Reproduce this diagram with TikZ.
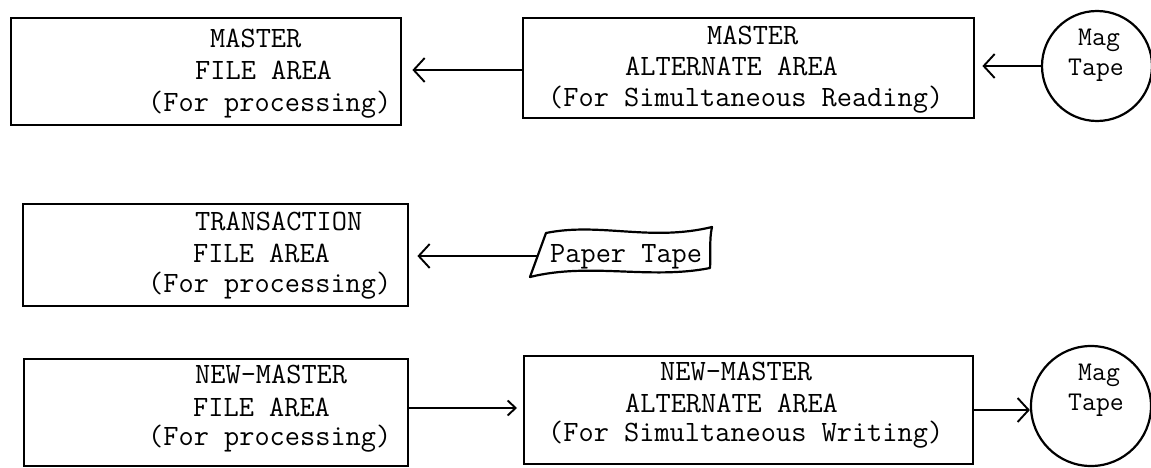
\documentclass[tikz,border=0pt]{standalone}
\usetikzlibrary{arrows.meta}
\begin{document}
\begin{tikzpicture}[x=1pt,y=-1pt,
  box/.style={draw, line width=2.4pt, anchor=north west, inner sep=0pt},
  txt/.style={anchor=base west, inner sep=0pt, font=\fontsize{29.5}{32}\selectfont\ttfamily},
  stxt/.style={anchor=base west, inner sep=0pt, font=\fontsize{27}{30}\selectfont\ttfamily},
  tape/.style={draw, line width=2.2pt, circle, inner sep=0pt},
  arr/.style={line width=1.9pt, -{Straight Barb[length=11pt,width=24pt,line width=1.9pt]}},
  arrs/.style={line width=1.9pt, -{Straight Barb[length=8pt,width=15pt,line width=1.9pt]}},
  ptape/.style={line width=2.2pt, line join=round}]
\useasboundingbox (0,0) rectangle (1151,468);

% Row 1
\node[box, minimum width=390pt, minimum height=107pt] (b1) at (10,17) {};
\node[txt] (b1a) at (210,48) {MASTER};
\node[txt] (b1b) at (195,80) {FILE AREA};
\node[txt] (b1c) at (148,112) {(For processing)};

\node[box, minimum width=451pt, minimum height=100pt] (b2) at (522,17) {};
\node[txt] (b2a) at (707,45) {MASTER};
\node[txt] (b2b) at (625,76) {ALTERNATE AREA};
\node[txt] (b2c) at (548,107) {(For Simultaneous Reading)};

\node[tape, minimum size=110pt] (m1) at (1097,66) {};
\node[stxt] (m1a) at (1078,46) {Mag};
\node[stxt] (m1b) at (1068,76) {Tape};

\draw[arr] (b2.west |- 0,70) -- ([xshift=10pt]b1.east |- 0,70);
\draw[arr] (m1.west) -- ([xshift=7pt]m1.west -| b2.east);

% Row 2
\node[box, minimum width=385pt, minimum height=102pt] (b3) at (22,203) {};
\node[txt] (b3a) at (195,230) {TRANSACTION};
\node[txt] (b3b) at (193,262) {FILE AREA};
\node[txt] (b3c) at (148,292) {(For processing)};

\node[txt] (pt) at (550,262) {Paper Tape};
\draw[ptape] (530,277) -- (546,233) .. controls (600,222) and (650,242) .. (712,227)
  .. controls (709,240) and (711,255) .. (710,268)
  .. controls (650,280) and (590,262) .. (530,277) -- cycle;
\coordinate (ptl) at (537,256);
\draw[arr] (ptl) -- ([xshift=8pt]ptl -| b3.east);

% Row 3
\node[box, minimum width=384pt, minimum height=107pt] (b4) at (23,358) {};
\node[txt] (b4a) at (195,383) {NEW-MASTER};
\node[txt] (b4b) at (193,416) {FILE AREA};
\node[txt] (b4c) at (148,445) {(For processing)};

\node[box, minimum width=449pt, minimum height=108pt] (b5) at (523,355) {};
\node[txt] (b5a) at (660,380) {NEW-MASTER};
\node[txt] (b5b) at (625,412) {ALTERNATE AREA};
\node[txt] (b5c) at (548,441) {(For Simultaneous Writing)};

\node[tape, minimum size=120pt] (m2) at (1091,406) {};
\node[stxt] (m2a) at (1078,380) {Mag};
\node[stxt] (m2b) at (1068,410) {Tape};

\draw[arrs] (b4.east |- 0,408) -- ([xshift=-6pt]b5.west |- 0,408);
\draw[arr] (b5.east |- 0,410) -- (m2.west |- 0,410);
\end{tikzpicture}
\end{document}
